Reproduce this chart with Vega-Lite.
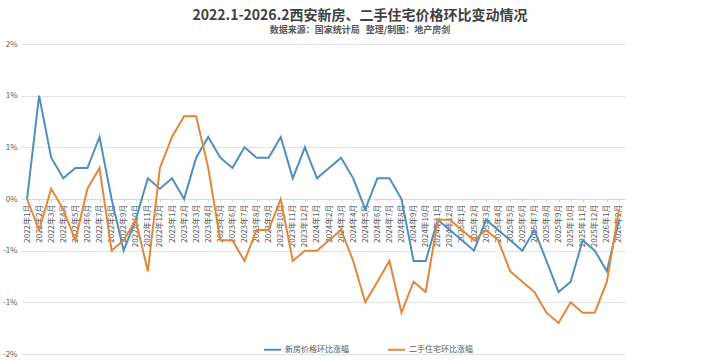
{
  "$schema": "https://vega.github.io/schema/vega-lite/v6.json",
  "width": 604,
  "height": 310,
  "autosize": "none",
  "padding": {"left": 21, "top": 44, "right": 95, "bottom": 8},
  "background": "white",
  "title": {
    "text": "2022.1-2026.2西安新房、二手住宅价格环比变动情况",
    "subtitle": "数据来源：国家统计局\u00a0\u00a0\u00a0整理/制图：地产房剑",
    "anchor": "middle",
    "dx": 37,
    "font": "Noto Sans CJK SC",
    "fontSize": 14,
    "fontWeight": "bold",
    "color": "#404040",
    "subtitleFont": "Noto Sans CJK SC",
    "subtitleFontSize": 9,
    "subtitleFontWeight": "bold",
    "subtitleColor": "#595959",
    "subtitlePadding": 3,
    "offset": 5
  },
  "config": {"view": {"stroke": null}, "font": "Noto Sans CJK SC"},
  "data": {
    "values": [
      {"month": "2022年1月", "新房价格环比涨幅": 0.0, "二手住宅环比涨幅": 0.0},
      {"month": "2022年2月", "新房价格环比涨幅": 1.0, "二手住宅环比涨幅": -0.3},
      {"month": "2022年3月", "新房价格环比涨幅": 0.4, "二手住宅环比涨幅": 0.1},
      {"month": "2022年4月", "新房价格环比涨幅": 0.2, "二手住宅环比涨幅": -0.1},
      {"month": "2022年5月", "新房价格环比涨幅": 0.3, "二手住宅环比涨幅": -0.4},
      {"month": "2022年6月", "新房价格环比涨幅": 0.3, "二手住宅环比涨幅": 0.1},
      {"month": "2022年7月", "新房价格环比涨幅": 0.6, "二手住宅环比涨幅": 0.3},
      {"month": "2022年8月", "新房价格环比涨幅": 0.0, "二手住宅环比涨幅": -0.5},
      {"month": "2022年9月", "新房价格环比涨幅": -0.5, "二手住宅环比涨幅": -0.4},
      {"month": "2022年10月", "新房价格环比涨幅": -0.2, "二手住宅环比涨幅": -0.2},
      {"month": "2022年11月", "新房价格环比涨幅": 0.2, "二手住宅环比涨幅": -0.7},
      {"month": "2022年12月", "新房价格环比涨幅": 0.1, "二手住宅环比涨幅": 0.3},
      {"month": "2023年1月", "新房价格环比涨幅": 0.2, "二手住宅环比涨幅": 0.6},
      {"month": "2023年2月", "新房价格环比涨幅": 0.0, "二手住宅环比涨幅": 0.8},
      {"month": "2023年3月", "新房价格环比涨幅": 0.4, "二手住宅环比涨幅": 0.8},
      {"month": "2023年4月", "新房价格环比涨幅": 0.6, "二手住宅环比涨幅": 0.3},
      {"month": "2023年5月", "新房价格环比涨幅": 0.4, "二手住宅环比涨幅": -0.4},
      {"month": "2023年6月", "新房价格环比涨幅": 0.3, "二手住宅环比涨幅": -0.4},
      {"month": "2023年7月", "新房价格环比涨幅": 0.5, "二手住宅环比涨幅": -0.6},
      {"month": "2023年8月", "新房价格环比涨幅": 0.4, "二手住宅环比涨幅": -0.3},
      {"month": "2023年9月", "新房价格环比涨幅": 0.4, "二手住宅环比涨幅": -0.3},
      {"month": "2023年10月", "新房价格环比涨幅": 0.6, "二手住宅环比涨幅": 0.0},
      {"month": "2023年11月", "新房价格环比涨幅": 0.2, "二手住宅环比涨幅": -0.6},
      {"month": "2023年12月", "新房价格环比涨幅": 0.5, "二手住宅环比涨幅": -0.5},
      {"month": "2024年1月", "新房价格环比涨幅": 0.2, "二手住宅环比涨幅": -0.5},
      {"month": "2024年2月", "新房价格环比涨幅": 0.3, "二手住宅环比涨幅": -0.4},
      {"month": "2024年3月", "新房价格环比涨幅": 0.4, "二手住宅环比涨幅": -0.3},
      {"month": "2024年4月", "新房价格环比涨幅": 0.2, "二手住宅环比涨幅": -0.6},
      {"month": "2024年5月", "新房价格环比涨幅": -0.1, "二手住宅环比涨幅": -1.0},
      {"month": "2024年6月", "新房价格环比涨幅": 0.2, "二手住宅环比涨幅": -0.8},
      {"month": "2024年7月", "新房价格环比涨幅": 0.2, "二手住宅环比涨幅": -0.6},
      {"month": "2024年8月", "新房价格环比涨幅": 0.0, "二手住宅环比涨幅": -1.1},
      {"month": "2024年9月", "新房价格环比涨幅": -0.6, "二手住宅环比涨幅": -0.8},
      {"month": "2024年10月", "新房价格环比涨幅": -0.6, "二手住宅环比涨幅": -0.9},
      {"month": "2024年11月", "新房价格环比涨幅": -0.2, "二手住宅环比涨幅": -0.2},
      {"month": "2024年12月", "新房价格环比涨幅": -0.3, "二手住宅环比涨幅": -0.2},
      {"month": "2025年1月", "新房价格环比涨幅": -0.4, "二手住宅环比涨幅": -0.3},
      {"month": "2025年2月", "新房价格环比涨幅": -0.5, "二手住宅环比涨幅": -0.4},
      {"month": "2025年3月", "新房价格环比涨幅": -0.2, "二手住宅环比涨幅": -0.3},
      {"month": "2025年4月", "新房价格环比涨幅": -0.3, "二手住宅环比涨幅": -0.4},
      {"month": "2025年5月", "新房价格环比涨幅": -0.4, "二手住宅环比涨幅": -0.7},
      {"month": "2025年6月", "新房价格环比涨幅": -0.5, "二手住宅环比涨幅": -0.8},
      {"month": "2025年7月", "新房价格环比涨幅": -0.3, "二手住宅环比涨幅": -0.9},
      {"month": "2025年8月", "新房价格环比涨幅": -0.6, "二手住宅环比涨幅": -1.1},
      {"month": "2025年9月", "新房价格环比涨幅": -0.9, "二手住宅环比涨幅": -1.2},
      {"month": "2025年10月", "新房价格环比涨幅": -0.8, "二手住宅环比涨幅": -1.0},
      {"month": "2025年11月", "新房价格环比涨幅": -0.4, "二手住宅环比涨幅": -1.1},
      {"month": "2025年12月", "新房价格环比涨幅": -0.5, "二手住宅环比涨幅": -1.1},
      {"month": "2026年1月", "新房价格环比涨幅": -0.7, "二手住宅环比涨幅": -0.8},
      {"month": "2026年2月", "新房价格环比涨幅": -0.2, "二手住宅环比涨幅": -0.1}
    ]
  },
  "transform": [
    {"fold": ["新房价格环比涨幅", "二手住宅环比涨幅"], "as": ["series", "value"]}
  ],
  "mark": {"type": "line", "strokeWidth": 2},
  "encoding": {
    "x": {
      "field": "month",
      "type": "ordinal",
      "sort": null,
      "scale": {"type": "point", "padding": 0.5},
      "axis": {
        "title": null,
        "labelAngle": -90,
        "offset": -155,
        "domainColor": "#d9d9d9",
        "tickColor": "#d9d9d9",
        "tickSize": 3,
        "labelFontSize": 8,
        "labelColor": "#595959",
        "labelPadding": 2,
        "grid": false
      }
    },
    "y": {
      "field": "value",
      "type": "quantitative",
      "scale": {"domain": [-1.5, 1.5], "nice": false, "zero": false},
      "axis": {
        "title": null,
        "values": [-1.5, -1, -0.5, 0, 0.5, 1, 1.5],
        "labelExpr": "datum.value > 0 ? (datum.value > 1 ? '2%' : '1%') : (datum.value < 0 ? (datum.value < -1 ? '-2%' : '-1%') : '0%')",
        "grid": true,
        "gridColor": "#e3e3e3",
        "domain": false,
        "ticks": false,
        "labelFontSize": 8,
        "labelColor": "#595959",
        "labelPadding": 4
      }
    },
    "color": {
      "field": "series",
      "type": "nominal",
      "scale": {"domain": ["新房价格环比涨幅", "二手住宅环比涨幅"], "range": ["#4f8fc0", "#e3873a"]},
      "legend": {
        "title": null,
        "orient": "none",
        "legendX": 242,
        "legendY": 296,
        "direction": "horizontal",
        "symbolType": "stroke",
        "symbolSize": 289,
        "symbolStrokeWidth": 2,
        "labelFontSize": 8,
        "labelColor": "#595959",
        "labelOffset": 3,
        "columnPadding": 35
      }
    }
  }
}
